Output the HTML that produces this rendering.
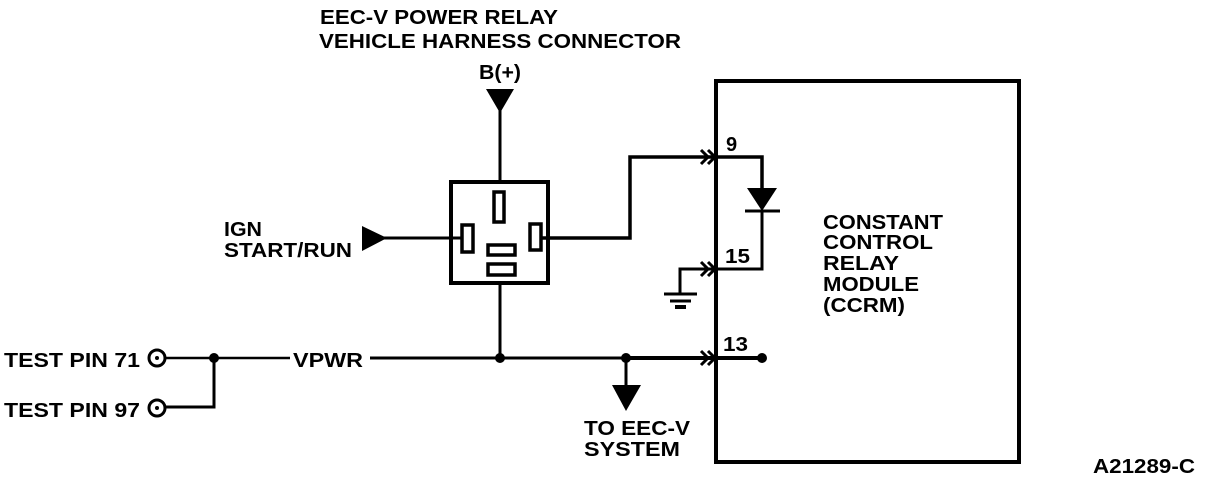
<!DOCTYPE html>
<html><head><meta charset="utf-8"><style>
html,body{margin:0;padding:0;background:#fff;}
svg{display:block;}
text{font-family:"Liberation Sans",sans-serif;font-weight:bold;fill:#000;}
</style></head><body>
<svg width="1216" height="480" viewBox="0 0 1216 480" xmlns="http://www.w3.org/2000/svg">
<g stroke="#000" fill="none" stroke-width="3">
<rect x="716" y="81" width="303" height="381" stroke-width="4"/>
<rect x="451" y="182" width="97" height="101" stroke-width="4"/>
<rect x="494" y="192" width="10" height="30" stroke-width="3.5"/>
<rect x="462" y="225" width="11" height="27" stroke-width="3.5"/>
<rect x="530" y="224" width="11" height="26" stroke-width="3.5"/>
<rect x="488" y="245" width="27" height="10" stroke-width="3.5"/>
<rect x="488" y="264" width="27" height="11" stroke-width="3.5"/>
<line x1="500" y1="110" x2="500" y2="182"/>
<line x1="380" y1="238" x2="462" y2="238"/>
<polyline points="541,238 630,238 630,157 762,157 762,190" stroke-width="3.5"/>
<polyline points="762,210 762,269 680,269 680,294"/>
<line x1="664" y1="294" x2="697" y2="294"/>
<line x1="670" y1="301" x2="691" y2="301"/>
<line x1="675" y1="307" x2="686" y2="307" stroke-width="4"/>
<line x1="745" y1="211" x2="780" y2="211"/>
<line x1="500" y1="283" x2="500" y2="358"/>
<line x1="370" y1="358" x2="626" y2="358"/>
<line x1="626" y1="358" x2="762" y2="358" stroke-width="4"/>
<line x1="626" y1="358" x2="626" y2="390"/>
<circle cx="157" cy="358" r="8"/>
<circle cx="157" cy="408" r="8"/>
<line x1="165" y1="358" x2="290" y2="358" stroke-width="2.5"/>
<polyline points="165,407 214,407 214,358"/>
<polyline points="701,150 708,157 701,164" />
<polyline points="708,150 715,157 708,164" />
<polyline points="701,262 708,269 701,276" />
<polyline points="708,262 715,269 708,276" />
<polyline points="701,351 708,358 701,365" />
<polyline points="708,351 715,358 708,365" />
</g>
<g fill="#000">
<polygon points="486,89 514,89 500,113"/>
<polygon points="362,226 362,251 387,238"/>
<polygon points="612,385 641,385 626,411"/>
<polygon points="747,188 777,188 762,211"/>
<circle cx="500" cy="358" r="5"/>
<circle cx="626" cy="358" r="5"/>
<circle cx="762" cy="358" r="5"/>
<circle cx="214" cy="358" r="5"/>
<circle cx="157" cy="358" r="2"/>
<circle cx="157" cy="408" r="2"/>
</g>
<g font-size="20">
<text x="320" y="24" textLength="238" lengthAdjust="spacingAndGlyphs">EEC-V POWER RELAY</text>
<text x="319" y="48" textLength="362" lengthAdjust="spacingAndGlyphs">VEHICLE HARNESS CONNECTOR</text>
<text x="479" y="79" textLength="42" lengthAdjust="spacingAndGlyphs">B(+)</text>
<text x="224" y="236" textLength="38" lengthAdjust="spacingAndGlyphs">IGN</text>
<text x="224" y="257" textLength="128" lengthAdjust="spacingAndGlyphs">START/RUN</text>
<text x="4" y="367" textLength="136" lengthAdjust="spacingAndGlyphs">TEST PIN 71</text>
<text x="4" y="417" textLength="136" lengthAdjust="spacingAndGlyphs">TEST PIN 97</text>
<text x="293" y="367" textLength="70" lengthAdjust="spacingAndGlyphs">VPWR</text>
<text x="584" y="435" textLength="106" lengthAdjust="spacingAndGlyphs">TO EEC-V</text>
<text x="584" y="456" textLength="96" lengthAdjust="spacingAndGlyphs">SYSTEM</text>
<text x="726" y="151">9</text>
<text x="725" y="263" textLength="25" lengthAdjust="spacingAndGlyphs">15</text>
<text x="723" y="351" textLength="25" lengthAdjust="spacingAndGlyphs">13</text>
<text x="823" y="229" textLength="120" lengthAdjust="spacingAndGlyphs">CONSTANT</text>
<text x="823" y="249" textLength="110" lengthAdjust="spacingAndGlyphs">CONTROL</text>
<text x="823" y="270" textLength="76" lengthAdjust="spacingAndGlyphs">RELAY</text>
<text x="823" y="291" textLength="96" lengthAdjust="spacingAndGlyphs">MODULE</text>
<text x="823" y="312" textLength="82" lengthAdjust="spacingAndGlyphs">(CCRM)</text>
<text x="1093" y="473" textLength="102" lengthAdjust="spacingAndGlyphs">A21289-C</text>
</g>
</svg>
</body></html>
